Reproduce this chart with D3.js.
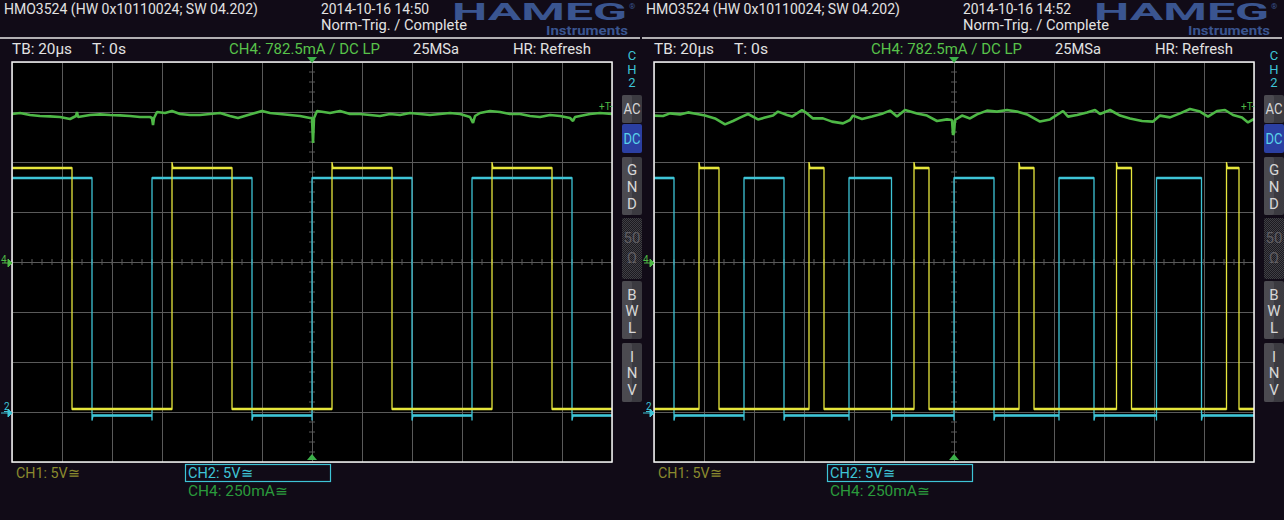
<!DOCTYPE html>
<html>
<head>
<meta charset="utf-8">
<script src="https://cdn.jsdelivr.net/npm/d3@7"></script>
<style>
  body { margin: 0; background: #110b17; }
  svg { display: block; }
  text { font-family: Roboto, "Liberation Sans", sans-serif; }
</style>
</head>
<body>
<div id="chart"></div>
<script>
const captureTimes = ["2014-10-16 14:50", "2014-10-16 14:52"];
const gridTimes = d3.range(-120, 121, 20);      // µs, 20 µs/div
const gridDivs = d3.range(-4, 5, 1);

// channel levels (V): [low, high]
const ch1Levels = [0.3, 24.4];
const ch2Levels = [-0.35, 23.4];
const ch1Overshoot = 0.6;
const ch2Undershoot = 0.5;

// high pulses [start, end] in µs
const ch1PulsesA = [[-120, -96], [-56, -32], [8, 32], [72, 96]];
const ch2PulsesA = [[-120, -88], [-64, -24], [0, 40], [64, 104]];
const ch1PulsesB = [[-102, -94], [-58, -52], [-16, -10], [26, 32], [65, 71], [109, 114]];
const ch2PulsesB = [[-120, -112], [-84, -68], [-42, -25], [0, 16], [42, 56], [81, 99]];

// CH4 current trace (µs, mA)
const ch4TimeA = [-120, -116.8, -112.8, -108.8, -104.8, -100.8, -96.8, -94.4, -94, -93.6, -88.8, -84.8, -80.8, -76.8, -72.8, -68.8, -64.8, -64, -63.6, -63.2, -62, -58.8, -56, -52.8, -48.8, -44.8, -40.8, -36.8, -32.8, -29.6, -25.6, -22.8, -20, -16.8, -12.8, -8.8, -4.8, -0.8, 0, 0.4, 0.8, 2, 7.2, 11.2, 15.2, 19.2, 23.2, 27.2, 31.2, 35.2, 39.2, 43.2, 47.2, 51.2, 55.2, 59.2, 63.2, 64.4, 65.2, 67.2, 71.2, 75.2, 79.2, 83.2, 87.2, 91.2, 95.2, 99.2, 103.2, 104.4, 105.2, 107.2, 111.2, 115.2, 120];
const ch4CurrentA = [740, 745, 735, 730, 728, 725, 715, 730, 750, 725, 735, 738, 735, 733, 730, 725, 725, 720, 685, 720, 750, 745, 755, 740, 735, 735, 740, 745, 730, 720, 735, 745, 755, 745, 740, 735, 730, 720, 720, 595, 720, 755, 745, 755, 740, 740, 735, 730, 740, 735, 745, 740, 735, 740, 745, 740, 725, 695, 730, 745, 755, 750, 740, 740, 730, 725, 735, 730, 720, 705, 725, 730, 740, 745, 740];
const ch4TimeB = [-120, -116.4, -113.6, -109.6, -106.4, -102.8, -99.6, -95.6, -91.6, -88.4, -85.6, -82.4, -78.4, -75.6, -72.4, -70.4, -66.8, -64.8, -60.8, -58.8, -56.4, -52.4, -48.8, -44.4, -41.6, -40.4, -36.8, -32.8, -28.4, -25.6, -22.8, -19.6, -14.8, -10.8, -6.8, -2.8, -0.8, -0.4, 0, 0.4, 3.2, 6.4, 9.2, 13.2, 17.2, 21.2, 25.2, 29.2, 34.4, 38.4, 43.6, 45.6, 49.2, 53.2, 56.4, 58.4, 62.4, 66.4, 70.4, 75.2, 79.6, 82.4, 86.4, 90.4, 94.4, 98.4, 101.6, 105.2, 108.4, 111.6, 115.2, 117.6, 120];
const ch4CurrentB = [732, 730, 743, 738, 748, 740, 732, 718, 688, 705, 722, 740, 713, 722, 732, 752, 735, 727, 760, 743, 718, 718, 702, 693, 710, 732, 715, 727, 743, 757, 727, 760, 743, 732, 705, 713, 710, 635, 645, 710, 732, 718, 738, 757, 752, 760, 752, 738, 702, 713, 755, 727, 735, 748, 760, 740, 760, 732, 718, 705, 702, 732, 723, 743, 765, 752, 727, 755, 760, 735, 722, 698, 715];
const ch4TriggerLevel = 782.5;   // mA

const sideButtons = [["AC"], ["DC"], ["G", "N", "D"], ["50", "Ω"], ["B", "W", "L"], ["I", "N", "V"]];

// ---- layout ----
const W = 1284, H = 520;
const panelOffsets = [0, 642];
const plot = { left: 12, right: 612, top: 62, bottom: 462 };
const col = { bg: "#110b17", grid: "#5a5a5a", text: "#e2e2e2", ch1: "#e6e63c", ch2: "#3ec4d6", ch4: "#4eb846", ch4Dim: "#2a9a3c", ch1Dim: "#8a8a2e", logo: "#3a5590" };
const buttonBoxes = [[95, 123], [124, 153], [157, 215], [218, 279], [281, 339], [343, 402]];
const buttonLetterY = [[114], [144], [175, 192, 209], [243, 263], [300, 316, 333], [362, 378, 395]];

const svg = d3.select("#chart").append("svg").attr("width", W).attr("height", H);
svg.append("rect").attr("width", W).attr("height", H).attr("fill", col.bg);

const defs = svg.append("defs");
const pat = defs.append("pattern").attr("id", "checker").attr("width", 2).attr("height", 2).attr("patternUnits", "userSpaceOnUse");
pat.append("rect").attr("width", 2).attr("height", 2).attr("fill", "#1c1b20");
pat.append("rect").attr("width", 1).attr("height", 1).attr("fill", "#403f45");
pat.append("rect").attr("x", 1).attr("y", 1).attr("width", 1).attr("height", 1).attr("fill", "#403f45");

function label(g, x, y, txt, size, fill, width, anchor) {
  const t = g.append("text").attr("x", x).attr("y", y).attr("font-size", size).attr("fill", fill).text(txt);
  if (width) t.attr("textLength", width).attr("lengthAdjust", "spacingAndGlyphs");
  if (anchor) t.attr("text-anchor", anchor);
  return t;
}

// square wave points from high pulses
function squareWave(pulses, levels, riseSpike, fallSpike) {
  const [lo, hi] = levels;
  const pts = [];
  if (pulses[0][0] > -120) pts.push([-120, lo]);
  pulses.forEach(([a, b]) => {
    if (a > -120) {
      pts.push([a, lo]);
      pts.push([a, lo - fallSpike]);
      pts.push([a, hi + riseSpike]);
      pts.push([a + 0.4, hi]);
    } else pts.push([a, hi]);
    pts.push([b, hi]);
    pts.push([b, lo - fallSpike]);
    pts.push([b + 0.4, lo]);
  });
  pts.push([120, lo]);
  return pts;
}

// horizontal plateaus from pulses
function plateaus(pulses, levels) {
  const [lo, hi] = levels;
  const segs = [];
  let t = -120;
  pulses.forEach(([a, b]) => {
    if (a > t) segs.push([t, a, lo]);
    segs.push([a, b, hi]);
    t = b;
  });
  if (t < 120) segs.push([t, 120, lo]);
  return segs;
}

function drawPanel(idx) {
  const o = panelOffsets[idx];
  const g = svg.append("g");
  const x = d3.scaleLinear().domain([-120, 120]).range([o + plot.left, o + plot.right]);
  const y = d3.scaleLinear().domain([-4, 4]).range([plot.bottom, plot.top]);
  const yCh1 = v => y(-3 + v / 5);
  const yCh2 = v => y(-3 + v / 5);
  const yCh4 = mA => y(mA / 250);

  // header
  label(g, o + 4, 14, "HMO3524 (HW 0x10110024; SW 04.202)", 14, col.text, 254);
  label(g, o + 321, 14, captureTimes[idx], 14, col.text, 108);
  label(g, o + 321, 30, "Norm-Trig. / Complete", 14, col.text, 146);
  label(g, o + 452, 20, "HAMEG", 23, col.logo, 175).attr("font-weight", "bold").attr("font-family", "DejaVu Sans");
  label(g, o + 629, 9, "®", 8, col.logo);
  label(g, o + 546, 35, "Instruments", 12.5, col.logo, 82).attr("font-weight", "bold");
  g.append("line").attr("x1", o).attr("x2", o + 640).attr("y1", 38).attr("y2", 38).attr("stroke", "#e8e8e8").attr("stroke-width", 1.5);

  label(g, o + 12, 54, "TB: 20µs", 14, col.text, 60);
  label(g, o + 92, 54, "T: 0s", 14, col.text, 34);
  label(g, o + 229, 54, "CH4: 782.5mA / DC LP", 14, "#58c24a", 151);
  label(g, o + 413, 54, "25MSa", 14, col.text, 46);
  label(g, o + 513, 54, "HR: Refresh", 14, col.text, 78);

  // plot background + grid
  g.append("rect").attr("x", o + plot.left).attr("y", plot.top).attr("width", 600).attr("height", 400).attr("fill", "#000");

  const gx = g.append("g").attr("transform", `translate(0,${plot.bottom})`)
    .call(d3.axisBottom(x).tickValues(gridTimes).tickSize(-400).tickFormat(""));
  const gy = g.append("g").attr("transform", `translate(${o + plot.left},0)`)
    .call(d3.axisLeft(y).tickValues(gridDivs).tickSize(-600).tickFormat(""));
  [gx, gy].forEach(a => {
    a.select(".domain").remove();
    a.selectAll("line").attr("stroke", col.grid).attr("stroke-width", 1);
  });

  // minor ticks on center cross
  const minorT = d3.range(-120, 121, 4);
  g.append("g").selectAll("line").data(minorT).join("line")
    .attr("x1", d => x(d)).attr("x2", d => x(d))
    .attr("y1", y(0) - 3).attr("y2", y(0) + 3)
    .attr("stroke", col.grid);
  const minorV = d3.range(-4, 4.01, 0.2);
  g.append("g").selectAll("line").data(minorV).join("line")
    .attr("x1", x(0) - 3).attr("x2", x(0) + 3)
    .attr("y1", d => y(d)).attr("y2", d => y(d))
    .attr("stroke", col.grid);

  // traces
  const clipId = "clip" + idx;
  defs.append("clipPath").attr("id", clipId).append("rect")
    .attr("x", o + plot.left).attr("y", plot.top).attr("width", 600).attr("height", 400);
  const tr = g.append("g").attr("clip-path", `url(#${clipId})`);

  const ch4Time = idx === 0 ? ch4TimeA : ch4TimeB;
  const ch4Cur = idx === 0 ? ch4CurrentA : ch4CurrentB;
  tr.append("path")
    .datum(ch4Time.map((t, i) => [t, ch4Cur[i]]))
    .attr("fill", "none").attr("stroke", col.ch4).attr("stroke-width", 2.6)
    .attr("stroke-linejoin", "bevel")
    .attr("d", d3.line().x(d => x(d[0])).y(d => yCh4(d[1])));

  const channels = [
    { pulses: idx === 0 ? ch2PulsesA : ch2PulsesB, levels: ch2Levels, color: col.ch2, yf: yCh2, rise: 0, fall: ch2Undershoot },
    { pulses: idx === 0 ? ch1PulsesA : ch1PulsesB, levels: ch1Levels, color: col.ch1, yf: yCh1, rise: ch1Overshoot, fall: 0 }
  ];
  channels.forEach(c => {
    tr.append("path")
      .datum(squareWave(c.pulses, c.levels, c.rise, c.fall))
      .attr("fill", "none").attr("stroke", c.color).attr("stroke-width", 1.3)
      .attr("d", d3.line().x(d => x(d[0])).y(d => c.yf(d[1])));
    tr.append("g").selectAll("line").data(plateaus(c.pulses, c.levels)).join("line")
      .attr("x1", d => x(d[0])).attr("x2", d => x(d[1]))
      .attr("y1", d => c.yf(d[2])).attr("y2", d => c.yf(d[2]))
      .attr("stroke", c.color).attr("stroke-width", 2.6);
  });

  // frame
  g.append("rect").attr("x", o + plot.left).attr("y", plot.top).attr("width", 600).attr("height", 400)
    .attr("fill", "none").attr("stroke", "#f4f4f4").attr("stroke-width", 1.5);

  // trigger position markers
  const cx = x(0);
  g.append("path").attr("d", `M${cx - 5},57 L${cx + 5},57 L${cx},63 Z`).attr("fill", "#3cb04a");
  g.append("path").attr("d", `M${cx - 5},460 L${cx + 5},460 L${cx},454 Z`).attr("fill", "#3cb04a");

  // trigger level marker
  label(g, o + plot.right - 13, yCh4(ch4TriggerLevel) + 4, "+T-", 10, col.ch4);

  // channel reference markers
  label(g, o + 1, y(0) + 1, "4", 10, col.ch4);
  g.append("path").attr("d", `M${o + 2},${y(0) + 1} H${o + 9} M${o + 8},${y(0) - 3} L${o + 12},${y(0) + 1} L${o + 8},${y(0) + 5} Z`)
    .attr("stroke", col.ch4).attr("fill", col.ch4).attr("stroke-width", 1);
  label(g, o + 4, y(-3) - 2, "2", 10, col.ch2).attr("text-decoration", "underline");
  g.append("path").attr("d", `M${o + 1},${y(-3) + 1} H${o + 9} M${o + 8},${y(-3) - 3} L${o + 12},${y(-3) + 1} L${o + 8},${y(-3) + 5} Z`)
    .attr("stroke", col.ch2).attr("fill", col.ch2).attr("stroke-width", 1);

  // bottom channel labels
  label(g, o + 16, 478, "CH1: 5V≅", 14, col.ch1Dim, 64);
  g.append("rect").attr("x", o + 185.5).attr("y", 464.5).attr("width", 145).attr("height", 17)
    .attr("fill", "none").attr("stroke", col.ch2).attr("stroke-width", 1.2);
  label(g, o + 188, 478, "CH2: 5V≅", 14, col.ch2, 65);
  label(g, o + 188, 496, "CH4: 250mA≅", 14, col.ch4Dim, 100);

  // side column
  const bx = o + 622, bcx = o + 632;
  ["C", "H", "2"].forEach((ch, i) => label(g, bcx, 60 + i * 13.5, ch, 13, col.ch2, null, "middle"));
  sideButtons.forEach((letters, i) => {
    const [y0, y1] = buttonBoxes[i];
    const bg = g.append("g");
    if (i === 1) {
      bg.append("rect").attr("x", bx).attr("y", y0).attr("width", 20).attr("height", y1 - y0).attr("rx", 2).attr("fill", "#2b3fa2");
    } else if (i === 3) {
      bg.append("rect").attr("x", bx).attr("y", y0).attr("width", 20).attr("height", y1 - y0).attr("rx", 2).attr("fill", "url(#checker)");
    } else {
      bg.append("rect").attr("x", bx).attr("y", y0).attr("width", 20).attr("height", y1 - y0).attr("rx", 2).attr("fill", "#3b3a40");
      bg.append("rect").attr("x", bx).attr("y", y0).attr("width", 10).attr("height", y1 - y0).attr("rx", 2).attr("fill", "#4b4a50");
    }
    const fill = i === 1 ? "#5ad2ea" : i === 3 ? "#5e5d63" : "#d6d6d6";
    letters.forEach((l, j) => {
      const t = label(bg, bcx, buttonLetterY[i][j], l, 15, fill, null, "middle");
      if (l.length === 2 && i !== 3) t.attr("textLength", 17).attr("lengthAdjust", "spacingAndGlyphs");
    });
  });
}

panelOffsets.forEach((o, i) => drawPanel(i));
</script>
</body>
</html>
